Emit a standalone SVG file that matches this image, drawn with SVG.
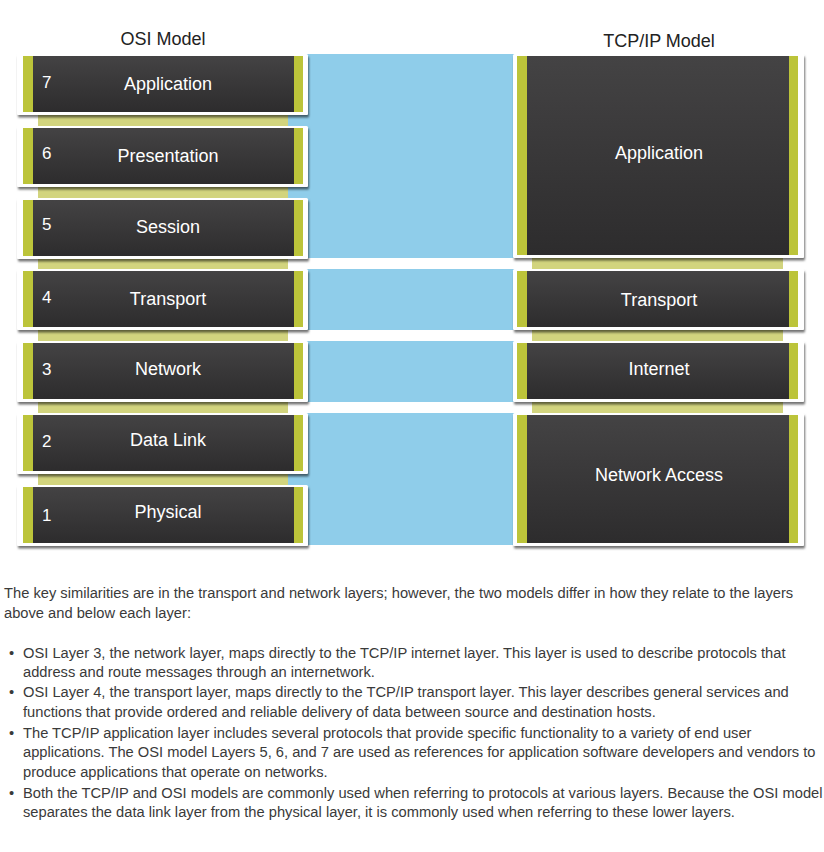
<svg xmlns="http://www.w3.org/2000/svg" width="824" height="852" viewBox="0 0 824 852">
<defs>
  <linearGradient id="dark" x1="0" y1="0" x2="0" y2="1">
    <stop offset="0" stop-color="#444344"/>
    <stop offset="1" stop-color="#2d2c2d"/>
  </linearGradient>
  <filter id="sh" x="-5%" y="-10%" width="115%" height="130%">
    <feDropShadow dx="1" dy="2.5" stdDeviation="1.3" flood-color="#000" flood-opacity="0.55"/>
  </filter>
</defs>
<style>
  .frame{fill:#fff;filter:url(#sh)}
  .inner{fill:url(#dark)}
  .green{fill:#bcc43a}
  .strip{fill:#d2d47e}
  .band{fill:#8fcdea}
  .lbl{font-family:"Liberation Sans",Arial,sans-serif;font-size:18px;fill:#fff;text-anchor:middle}
  .num{font-family:"Liberation Sans",Arial,sans-serif;font-size:17px;fill:#fff}
  .title{font-family:"Liberation Sans",Arial,sans-serif;font-size:18px;fill:#222;text-anchor:middle}
  .body{font-family:"Liberation Sans",Arial,sans-serif;font-size:14.7px;fill:#3a3a3a}
</style>
<rect width="824" height="852" fill="#fff"/>

<text class="title" x="163" y="45">OSI Model</text>
<text class="title" x="659" y="47">TCP/IP Model</text>

<g id="connectors">
  <rect class="band" x="288" y="54" width="228" height="204"/>
  <rect class="band" x="288" y="269" width="228" height="61"/>
  <rect class="band" x="288" y="341" width="228" height="61"/>
  <rect class="band" x="288" y="413" width="228" height="132"/>
  <rect class="strip" x="38" y="112" width="250" height="16"/>
  <rect class="strip" x="38" y="184" width="250" height="16"/>
  <rect class="strip" x="38" y="256" width="250" height="15"/>
  <rect class="strip" x="38" y="327" width="250" height="16"/>
  <rect class="strip" x="38" y="399" width="250" height="16"/>
  <rect class="strip" x="38" y="471" width="250" height="16"/>
  <rect class="strip" x="532" y="255" width="251" height="16"/>
  <rect class="strip" x="532" y="327" width="251" height="16"/>
  <rect class="strip" x="532" y="399" width="251" height="16"/>
</g>

<g id="osi7">
  <rect class="frame" x="17" y="54" width="291" height="61" rx="1.5"/>
  <rect class="green" x="23" y="56" width="280" height="56"/>
  <rect class="inner" x="33" y="56" width="261" height="56"/>
  <text class="num" x="42" y="88">7</text>
  <text class="lbl" x="168" y="90">Application</text>
</g>
<g id="osi6">
  <rect class="frame" x="17" y="126" width="291" height="61" rx="1.5"/>
  <rect class="green" x="23" y="128" width="280" height="56"/>
  <rect class="inner" x="33" y="128" width="261" height="56"/>
  <text class="num" x="42" y="159">6</text>
  <text class="lbl" x="168" y="162">Presentation</text>
</g>
<g id="osi5">
  <rect class="frame" x="17" y="198" width="291" height="61" rx="1.5"/>
  <rect class="green" x="23" y="200" width="280" height="56"/>
  <rect class="inner" x="33" y="200" width="261" height="56"/>
  <text class="num" x="42" y="230">5</text>
  <text class="lbl" x="168" y="233">Session</text>
</g>
<g id="osi4">
  <rect class="frame" x="17" y="269" width="291" height="61" rx="1.5"/>
  <rect class="green" x="23" y="271" width="280" height="56"/>
  <rect class="inner" x="33" y="271" width="261" height="56"/>
  <text class="num" x="42" y="303">4</text>
  <text class="lbl" x="168" y="305">Transport</text>
</g>
<g id="osi3">
  <rect class="frame" x="17" y="341" width="291" height="61" rx="1.5"/>
  <rect class="green" x="23" y="343" width="280" height="56"/>
  <rect class="inner" x="33" y="343" width="261" height="56"/>
  <text class="num" x="42" y="375">3</text>
  <text class="lbl" x="168" y="375">Network</text>
</g>
<g id="osi2">
  <rect class="frame" x="17" y="413" width="291" height="61" rx="1.5"/>
  <rect class="green" x="23" y="415" width="280" height="56"/>
  <rect class="inner" x="33" y="415" width="261" height="56"/>
  <text class="num" x="42" y="447">2</text>
  <text class="lbl" x="168" y="446">Data Link</text>
</g>
<g id="osi1">
  <rect class="frame" x="17" y="485" width="291" height="61" rx="1.5"/>
  <rect class="green" x="23" y="487" width="280" height="56"/>
  <rect class="inner" x="33" y="487" width="261" height="56"/>
  <text class="num" x="42" y="521">1</text>
  <text class="lbl" x="168" y="518">Physical</text>
</g>

<g id="tcp-application">
  <rect class="frame" x="513" y="54" width="291" height="204" rx="1.5"/>
  <rect class="green" x="517" y="56" width="281" height="199"/>
  <rect class="inner" x="527" y="56" width="262" height="199"/>
  <text class="lbl" x="659" y="159">Application</text>
</g>
<g id="tcp-transport">
  <rect class="frame" x="513" y="269" width="291" height="61" rx="1.5"/>
  <rect class="green" x="517" y="271" width="281" height="56"/>
  <rect class="inner" x="527" y="271" width="262" height="56"/>
  <text class="lbl" x="659" y="306">Transport</text>
</g>
<g id="tcp-internet">
  <rect class="frame" x="513" y="341" width="291" height="61" rx="1.5"/>
  <rect class="green" x="517" y="343" width="281" height="56"/>
  <rect class="inner" x="527" y="343" width="262" height="56"/>
  <text class="lbl" x="659" y="375">Internet</text>
</g>
<g id="tcp-network-access">
  <rect class="frame" x="513" y="413" width="291" height="133" rx="1.5"/>
  <rect class="green" x="517" y="415" width="281" height="128"/>
  <rect class="inner" x="527" y="415" width="262" height="128"/>
  <text class="lbl" x="659" y="481">Network Access</text>
</g>

<g id="text">
  <text class="body" x="4" y="598">The key similarities are in the transport and network layers; however, the two models differ in how they relate to the layers</text>
  <text class="body" x="4" y="618">above and below each layer:</text>
  <text class="body" x="9" y="658">•</text>
  <text class="body" x="23" y="658">OSI Layer 3, the network layer, maps directly to the TCP/IP internet layer. This layer is used to describe protocols that</text>
  <text class="body" x="23" y="677">address and route messages through an internetwork.</text>
  <text class="body" x="9" y="697">•</text>
  <text class="body" x="23" y="697">OSI Layer 4, the transport layer, maps directly to the TCP/IP transport layer. This layer describes general services and</text>
  <text class="body" x="23" y="717">functions that provide ordered and reliable delivery of data between source and destination hosts.</text>
  <text class="body" x="9" y="738">•</text>
  <text class="body" x="23" y="738">The TCP/IP application layer includes several protocols that provide specific functionality to a variety of end user</text>
  <text class="body" x="23" y="757">applications. The OSI model Layers 5, 6, and 7 are used as references for application software developers and vendors to</text>
  <text class="body" x="23" y="777">produce applications that operate on networks.</text>
  <text class="body" x="9" y="798">•</text>
  <text class="body" x="23" y="798">Both the TCP/IP and OSI models are commonly used when referring to protocols at various layers. Because the OSI model</text>
  <text class="body" x="23" y="817">separates the data link layer from the physical layer, it is commonly used when referring to these lower layers.</text>
</g>
</svg>
